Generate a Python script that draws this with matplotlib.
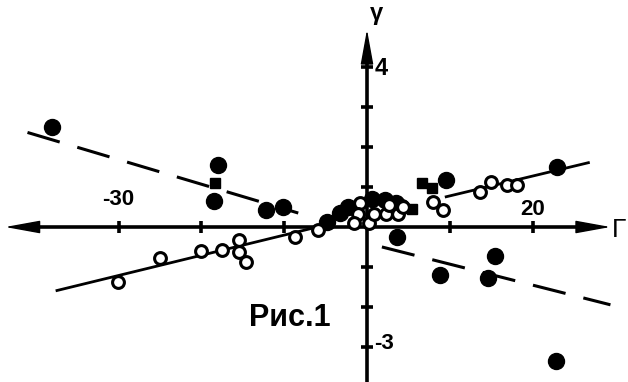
import matplotlib
matplotlib.use("Agg")
import matplotlib.pyplot as plt

# Filled circles (Γ, γ)
filled_x = [-38.0, -18.0, -18.5, -12.2, -10.1, -4.8, -3.3, -2.3, 0.6, 2.2, 3.5,
            9.6, 22.9, 8.8, 15.5, 14.6, 22.8, 3.6]
filled_y = [2.5, 1.55, 0.65, 0.42, 0.5, 0.13, 0.35, 0.5, 0.7, 0.68, 0.6,
            1.18, 1.5, -1.2, -0.73, -1.28, -3.35, -0.25]

# Filled squares
square_x = [-18.3, 6.7, 7.9, 5.4]
square_y = [1.1, 1.1, 0.97, 0.45]

# Open circles
open_x = [-30.1, -25.0, -20.1, -17.5, -15.4, -15.4, -14.6, -8.7, -5.9,
          -0.9, -1.1, -1.6, 0.2, 0.8, 2.3, 2.6, 3.7, 4.2, 4.4,
          8.0, 9.2, 13.6, 15.0, 16.9, 18.1]
open_y = [-1.38, -0.78, -0.6, -0.58, -0.33, -0.62, -0.88, -0.25, -0.08,
          0.6, 0.33, 0.1, 0.1, 0.33, 0.33, 0.55, 0.33, 0.53, 0.5,
          0.63, 0.43, 0.88, 1.13, 1.05, 1.05]

# Fitted lines
solid_left_x = [-37.6, -6.0]
solid_left_y = [-1.6, 0.0]
solid_right_x = [9.4, 26.9]
solid_right_y = [0.75, 1.62]
dashed_left_x = [-41.0, -8.3]
dashed_left_y = [2.37, 0.35]
dashed_right_x = [1.8, 29.4]
dashed_right_y = [-0.5, -1.95]

xticks = [-30, -20, -10, 10, 20]
yticks = [-3, -2, -1, 1, 2, 3, 4]

fig = plt.figure(figsize=(6.28, 3.82), dpi=100)
ax = fig.add_axes([0, 0, 1, 1])
ax.set_xlim(-44.32, 31.52)
ax.set_ylim(-3.885, 5.69)
ax.axis("off")

font = ["Liberation Sans", "DejaVu Sans"]

# Coordinate axes
x_left, x_right, y_top = -43.7, 29.4, 4.95
ax.plot([x_left + 2, x_right - 2], [0, 0], color="k", lw=2.6, solid_capstyle="butt")
ax.plot([0, 0], [-3.885, y_top - 0.4], color="k", lw=2.6, solid_capstyle="butt")

head = dict(arrowstyle="-|>,head_length=2.2,head_width=0.4", lw=1.0, color="k",
            mutation_scale=10, shrinkA=0, shrinkB=0)
ax.annotate("", xy=(x_left, 0), xytext=(x_left + 4, 0), arrowprops=head)
ax.annotate("", xy=(x_right, 0), xytext=(x_right - 4, 0), arrowprops=head)
ax.annotate("", xy=(0, y_top), xytext=(0, y_top - 0.8), arrowprops=head)

ax.plot(xticks, [0] * len(xticks), ls="none", marker="|", ms=9, mew=2.6, color="k")
ax.plot([0] * len(yticks), yticks, ls="none", marker="_", ms=9, mew=2.6, color="k")

# Regression lines
ax.plot(solid_left_x, solid_left_y, color="k", lw=2.0, solid_capstyle="butt")
ax.plot(solid_right_x, solid_right_y, color="k", lw=2.0, solid_capstyle="butt")
ax.plot(dashed_left_x, dashed_left_y, color="k", lw=2.2, dashes=(11, 6))
ax.plot(dashed_right_x, dashed_right_y, color="k", lw=2.2, dashes=(11, 6))

# Points
ax.plot(filled_x, filled_y, ls="none", marker="o", ms=11.5, color="k", zorder=5)
ax.plot(square_x, square_y, ls="none", marker="s", ms=7.5, color="k", zorder=5)
ax.plot(open_x, open_y, ls="none", marker="o", ms=8.5, mfc="white", mec="k",
        mew=2.2, zorder=6)

# Labels
txt = dict(color="k", fontweight="bold", family=font)
ax.text(-30, 0.42, "-30", fontsize=16, ha="center", va="bottom", **txt)
ax.text(20, 0.18, "20", fontsize=16, ha="center", va="bottom", **txt)
ax.text(0.9, 3.98, "4", fontsize=17, ha="left", va="center", **txt)
ax.text(0.9, -2.92, "-3", fontsize=16, ha="left", va="center", **txt)
ax.text(29.6, -0.08, "Г", fontsize=19, ha="left", va="center",
        color="k", family=font)
ax.text(1.2, 5.35, "γ", fontsize=17, ha="center", va="center", **txt)
ax.text(-9.3, -2.29, "Рис.1", fontsize=22, ha="center", va="center", **txt)

fig.savefig("out.png", dpi=100)
